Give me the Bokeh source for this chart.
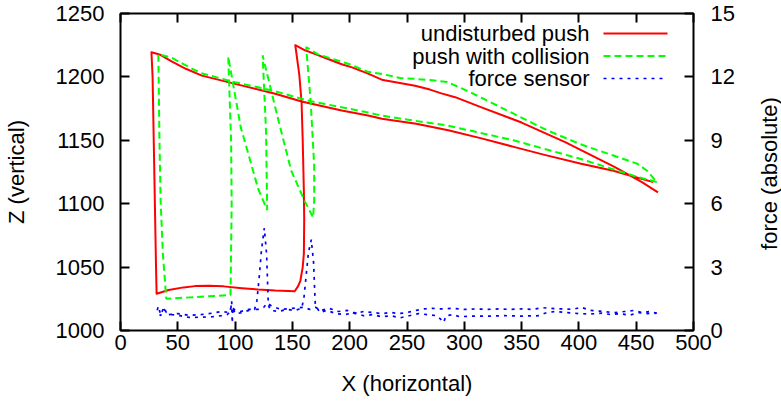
import math
from bokeh.plotting import figure
from bokeh.layouts import row
from bokeh.models import Range1d, LinearAxis, FixedTicker, Label, Arrow
from bokeh.embed import file_html
from bokeh.resources import INLINE

# ---------------- data ----------------
x_ticks = [0, 50, 100, 150, 200, 250, 300, 350, 400, 450, 500]
z_ticks = [1000, 1050, 1100, 1150, 1200, 1250]
f_ticks = [0, 3, 6, 9, 12, 15]

series_names = ["undisturbed push", "push with collision", "force sensor"]

# undisturbed push (X, Z)
push_x = [465, 449, 430, 402, 370, 344, 315, 286, 258, 228, 216, 193, 158, 135, 100, 71, 57, 45, 34, 27,
          28, 29, 30, 31, 31.5,
          42, 55, 65, 77, 90, 106, 120, 135, 152,
          155, 157, 159, 160, 160.3, 160, 159, 158, 156, 152.5,
          161, 170, 180, 193, 202, 215, 229, 245, 257, 270, 280, 292, 315, 350, 388, 431, 455, 469]
push_z = [1117, 1121, 1126, 1131.5, 1138.5, 1144.6, 1151.5, 1158, 1163, 1167, 1169.6, 1173.5, 1180.6, 1186.7, 1194.5, 1201, 1206.4, 1212, 1217.7, 1219.5,
          1200, 1150, 1100, 1050, 1029,
          1032, 1034, 1035, 1035.3, 1034.8, 1033.4, 1032.3, 1031.5, 1031,
          1035, 1039.4, 1050, 1060.5, 1087, 1110, 1150, 1180, 1202, 1225,
          1221, 1218, 1214.5, 1210, 1207.5, 1203, 1197.5, 1195, 1193, 1190, 1187, 1184, 1176, 1164, 1148.5, 1129, 1117, 1109]

# push with collision (X, Z)
coll_x = [468, 448, 401, 343, 285, 245, 227, 216, 193, 163, 134, 100, 70, 55, 45, 33,
          34, 35, 37, 40,
          96,
          97, 96.5, 94,
          105, 114, 120, 128,
          127, 124,
          138, 149, 160.5, 168,
          169, 169, 166, 162,
          172, 182, 200, 216, 227, 245, 256, 270, 285, 295, 305, 314, 343, 372, 401, 430, 451, 459.5, 468]
coll_z = [1117, 1122, 1135.4, 1150, 1161.7, 1167, 1169.6, 1172, 1176, 1181.4, 1189, 1195.8, 1203, 1210, 1215, 1218,
          1150, 1102.5, 1060, 1025,
          1028,
          1100, 1150, 1216,
          1160, 1131.5, 1112, 1095,
          1157, 1217,
          1165, 1126, 1102.5, 1089,
          1102, 1130, 1180, 1223.5,
          1218, 1215, 1210, 1204, 1202.5, 1199, 1198.5, 1197.5, 1196, 1192, 1188, 1184, 1171, 1158, 1147, 1138, 1131.5, 1126, 1117]

# force sensor (X, |F|)
force_x = [468, 462, 455, 448, 440, 432, 425, 418, 410, 402, 395, 385, 375, 368, 360, 350, 340, 330, 320, 310,
           300, 290, 280, 272, 265, 258, 250, 243, 236, 228, 220, 212, 205, 198, 190, 182, 175, 170, 165, 160,
           150, 140, 132, 128, 125, 120, 112, 105, 99, 97, 95, 88, 80, 70, 60, 50, 42, 38, 35, 32,
           33, 35, 38, 40, 45, 52, 60, 70, 80, 88, 93, 96, 97, 97.5, 98, 100, 106, 112, 117, 119,
           121, 123, 125.5, 127.5, 128.5, 129, 131, 138, 145, 152, 158, 160, 162, 164, 166.5, 168.5, 169.5, 170, 174, 180,
           188, 196, 204, 212, 220, 228, 236, 244, 252, 260, 268, 276, 280, 282, 284, 290, 296, 305, 320, 335,
           350, 365, 372, 380, 390, 400, 410, 420, 428, 436, 444, 452, 460, 468]
force_f = [0.82, 0.9, 0.85, 0.95, 0.9, 0.85, 0.88, 0.92, 0.95, 1.1, 1.0, 1.02, 1.05, 1.08, 1.0, 1.02, 1.0, 1.02, 1.0, 1.02,
           1.0, 1.05, 1.02, 1.05, 1.02, 0.95, 0.85, 0.8, 0.85, 0.8, 0.85, 0.9, 0.8, 0.95, 0.9, 1.05, 0.95, 1.1, 1.0, 1.1,
           1.05, 1.0, 1.15, 1.3, 1.1, 1.0, 1.0, 0.9, 1.0, 1.2, 0.85, 0.9, 0.82, 0.75, 0.72, 0.8, 0.75, 1.0, 0.7, 0.95,
           1.15, 0.75, 1.1, 0.85, 0.75, 0.7, 0.62, 0.63, 0.65, 0.7, 0.75, 0.9, 1.4, 0.35, 1.1, 0.8, 0.85, 0.95, 1.0, 1.4,
           2.5, 3.8, 4.85, 3.6, 2.0, 1.2, 0.95, 0.9, 1.0, 0.95, 1.05, 1.5, 2.6, 3.7, 4.3, 3.2, 1.8, 1.2, 0.85, 0.95,
           0.8, 0.75, 0.85, 0.7, 0.75, 0.65, 0.7, 0.6, 0.7, 0.8, 0.75, 0.7, 0.5, 0.38, 0.7, 0.75, 0.65, 0.68, 0.68, 0.7,
           0.68, 0.7, 0.85, 0.9, 0.85, 0.8, 0.78, 0.82, 0.75, 0.8, 0.72, 0.85, 0.8, 0.82]

# ---------------- figure ----------------
FONT = "Liberation Sans"
FS = "22px"
MAIN_W, SIDE_W, H = 745, 36, 401

p = figure(width=MAIN_W, height=H, output_backend="svg", toolbar_location=None,
           x_range=Range1d(0, 500), y_range=Range1d(1000, 1250),
           min_border_left=119, min_border_right=MAIN_W - 693, min_border_top=13, min_border_bottom=71)
p.extra_y_ranges = {"force": Range1d(0, 15)}
p.grid.visible = False
p.outline_line_color = "black"
p.outline_line_width = 2
p.background_fill_color = "white"
p.border_fill_color = "white"


def style(ax, ticks):
    ax.ticker = FixedTicker(ticks=ticks)
    ax.axis_line_color = None
    ax.major_tick_in = 9
    ax.major_tick_out = 0
    ax.minor_tick_line_color = None
    ax.major_tick_line_width = 2
    ax.major_tick_line_color = "black"
    ax.major_label_text_font = FONT
    ax.major_label_text_font_size = FS
    ax.major_label_text_color = "black"


def title_style(ax, text, standoff):
    ax.axis_label = text
    ax.axis_label_text_font = FONT
    ax.axis_label_text_font_size = FS
    ax.axis_label_text_font_style = "normal"
    ax.axis_label_text_color = "black"
    ax.axis_label_standoff = standoff


xa = p.xaxis[0]
style(xa, x_ticks)
xa.major_label_standoff = 4
title_style(xa, "X (horizontal)", 18)

ya = p.yaxis[0]
style(ya, z_ticks)
ya.major_label_standoff = 16
title_style(ya, "Z (vertical)", 24)

top = LinearAxis()
style(top, x_ticks)
top.major_label_text_font_size = "0pt"
top.major_label_standoff = 0
top.major_label_overrides = {t: "" for t in x_ticks}
p.add_layout(top, "above")

right = LinearAxis(y_range_name="force")
style(right, f_ticks)
right.major_label_standoff = 17
p.add_layout(right, "right")

# ---------------- series ----------------
colors = ["#ff0000", "#00ff00", "#0000ff"]
dashes = ["solid", "7 4", "3 5"]
widths = [2, 2, 1.7]

p.line(push_x, push_z, line_color=colors[0], line_width=widths[0], line_join="round")
p.line(coll_x, coll_z, line_color=colors[1], line_width=widths[1], line_dash=dashes[1])
p.line(force_x, force_f, line_color=colors[2], line_width=widths[2], line_dash=dashes[2], y_range_name="force")

# ---------------- key (text left, sample right, as gnuplot draws it) ----------------
rows_y = [297, 274.5, 252]
for name, c, d, w, yy in zip(series_names, colors, dashes, widths, rows_y):
    p.add_layout(Label(x=469, y=yy, x_units="screen", y_units="screen", text=name,
                       text_align="right", text_baseline="middle",
                       text_font=FONT, text_font_size=FS, text_color="black"))
    p.add_layout(Arrow(end=None, x_start=483, y_start=yy, x_end=547, y_end=yy,
                       start_units="screen", end_units="screen",
                       line_color=c, line_width=w, line_dash=d))

# ---------------- right-hand axis title (reads bottom-to-top, as in the reference) ----------------
side = figure(width=SIDE_W, height=H, output_backend="svg", toolbar_location=None,
              x_axis_type=None, y_axis_type=None, min_border=0,
              x_range=Range1d(0, 1), y_range=Range1d(0, 1))
side.grid.visible = False
side.outline_line_color = None
side.background_fill_color = "white"
side.border_fill_color = "white"
side.add_layout(Label(x=24, y=157, x_units="screen", y_units="screen", text="force (absolute)",
                      angle=math.pi / 2, text_align="center", text_baseline="middle",
                      text_font=FONT, text_font_size=FS, text_color="black"))

layout = row(p, side, spacing=0)
open("out.html", "w").write(file_html(layout, INLINE))
